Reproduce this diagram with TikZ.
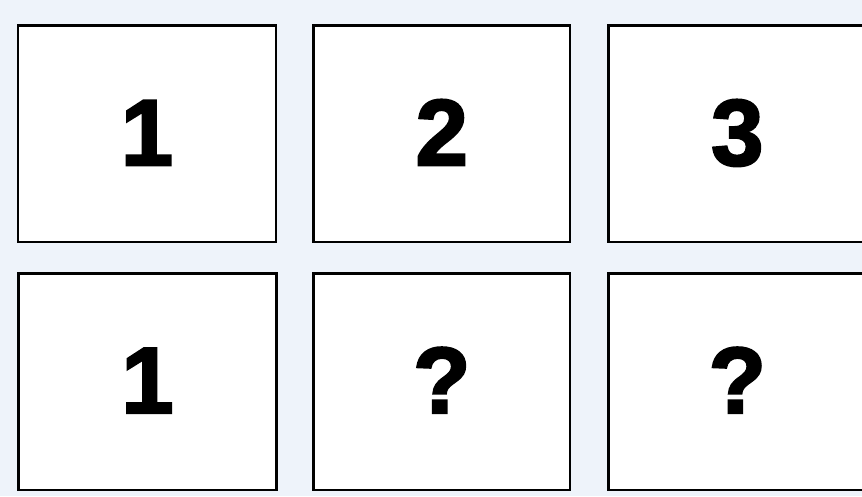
\documentclass[tikz,border=0pt]{standalone}
\usepackage{fontspec}
\setmainfont{Liberation Sans}[BoldFeatures={FakeBold=2.5}]
\definecolor{bgcol}{HTML}{EEF3FA}
\tikzset{
  cardbox/.style={draw=black, line width=2.5pt, fill=white, rectangle,
    minimum height=216.5pt, inner sep=0pt, outer sep=0pt,
    text height=69pt, text depth=6pt,
    font=\fontsize{94}{94}\selectfont\bfseries}
}
\begin{document}
\begin{tikzpicture}[x=1pt,y=-1pt]
\fill[bgcol] (0,0) rectangle (862,496);
\useasboundingbox (0,0) rectangle (862,496);
\node[cardbox, minimum width=258pt] (a1) at (147,133.75) {1};
\node[cardbox, minimum width=256.5pt] (a2) at (441.75,133.75) {2};
\node[cardbox, minimum width=258pt] (a3) at (737.3,133.75) {3};
\node[cardbox, minimum width=258pt] (b1) at (147.5,381.5) {1};
\node[cardbox, minimum width=256.5pt] (b2) at (441.75,381.5) {?};
\node[cardbox, minimum width=258pt] (b3) at (737.3,381.5) {?};
\end{tikzpicture}
\end{document}
